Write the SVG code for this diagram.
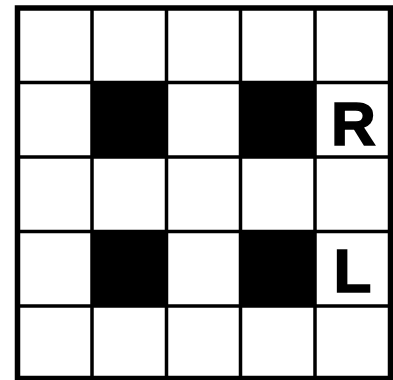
<svg xmlns="http://www.w3.org/2000/svg" width="393" height="380" viewBox="0 0 393 380">
<style>
.line{stroke:#000;stroke-width:3.5;fill:none}
.black{fill:#000}
.lbl{font-family:"Liberation Sans",Arial,sans-serif;font-weight:bold;font-size:62px;fill:#000;stroke:#000;stroke-width:1.6;text-anchor:middle}
</style>
<rect width="393" height="380" fill="#fff"/>
<g id="cells">
<rect class="black" x="92" y="82.5" width="74.5" height="74.5"/>
<rect class="black" x="240.5" y="82.5" width="74.5" height="74.5"/>
<rect class="black" x="92" y="231.5" width="74.5" height="74.5"/>
<rect class="black" x="240.5" y="231.5" width="74.5" height="74.5"/>
</g>
<g id="grid">
<line class="line" x1="92" y1="8" x2="92" y2="380"/>
<line class="line" x1="166.5" y1="8" x2="166.5" y2="380"/>
<line class="line" x1="240.5" y1="8" x2="240.5" y2="380"/>
<line class="line" x1="315" y1="8" x2="315" y2="380"/>
<line class="line" x1="17.5" y1="82.5" x2="390" y2="82.5"/>
<line class="line" x1="17.5" y1="157" x2="390" y2="157"/>
<line class="line" x1="17.5" y1="231.5" x2="390" y2="231.5"/>
<line class="line" x1="17.5" y1="306" x2="390" y2="306"/>
<rect x="17.5" y="8" width="373" height="370.5" fill="none" stroke="#000" stroke-width="5.5"/>
</g>
<g id="labels">
<text class="lbl" x="353.5" y="144.5">R</text>
<text class="lbl" x="352.5" y="291.5">L</text>
</g>
</svg>
